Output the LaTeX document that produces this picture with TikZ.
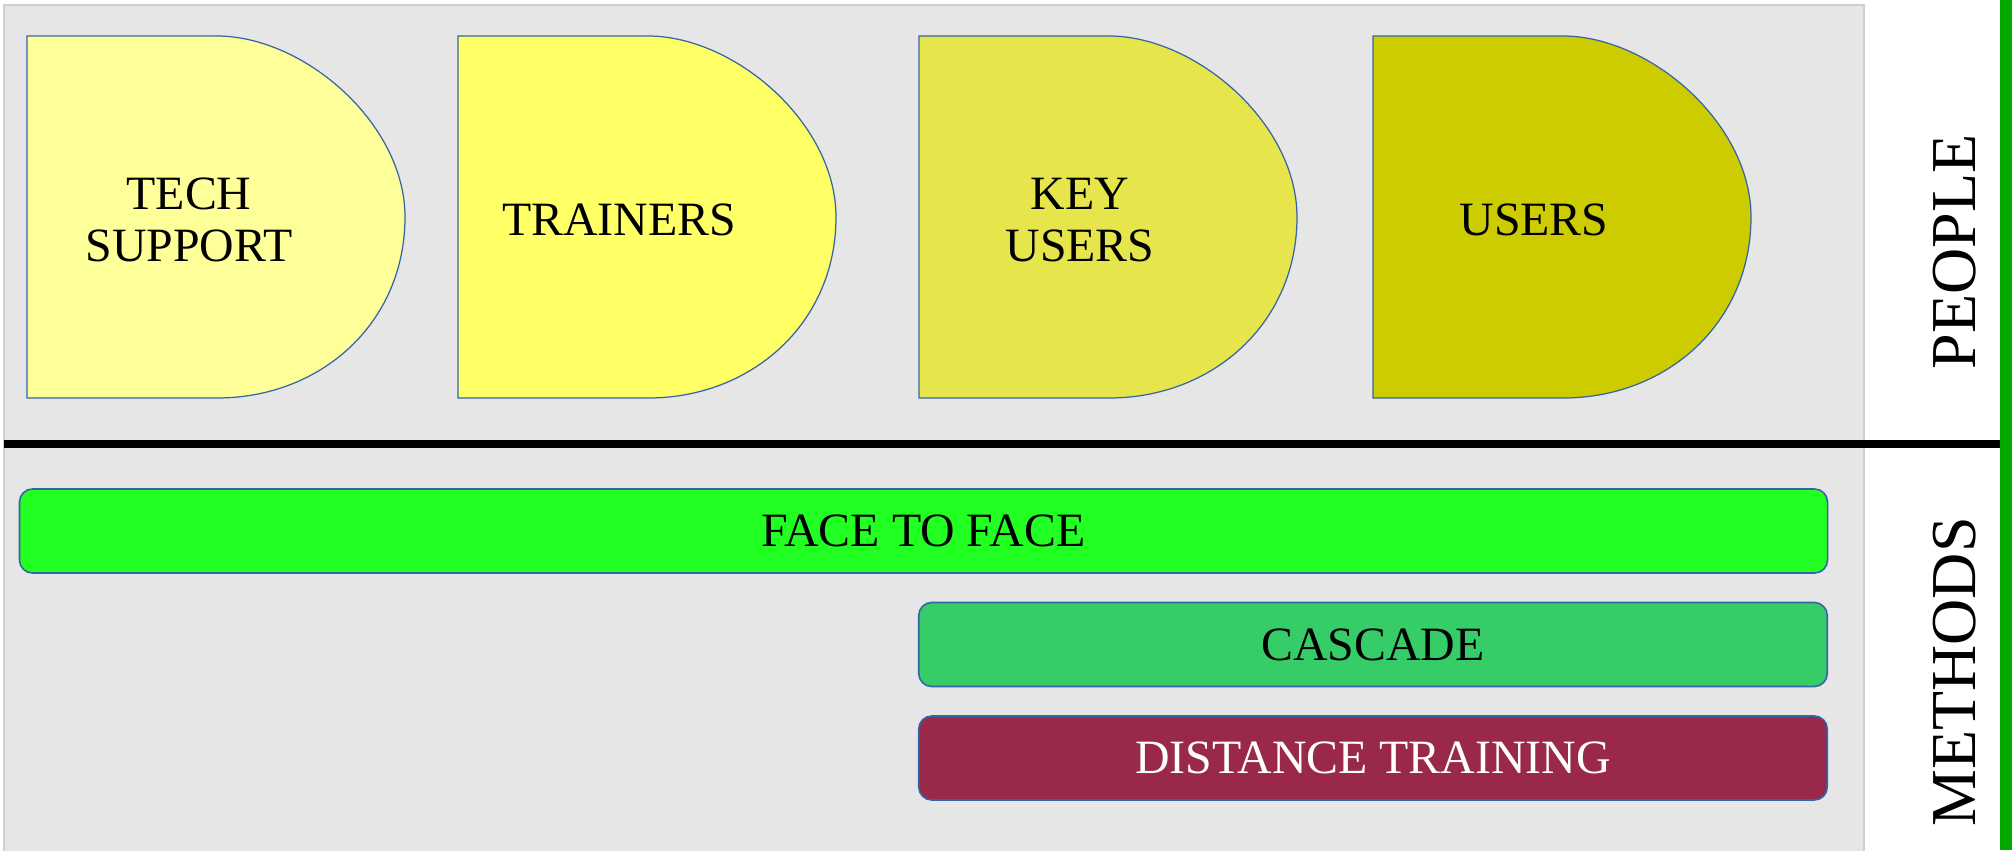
\documentclass[tikz,border=0pt]{standalone}
\usepackage{fontspec}
\setmainfont{Liberation Serif}
\definecolor{bggray}{HTML}{E6E6E6}
\definecolor{bgborder}{HTML}{CFCFCF}
\definecolor{edgeblue}{HTML}{3465A4}
\definecolor{ctech}{HTML}{FFFF99}
\definecolor{ctrain}{HTML}{FFFF66}
\definecolor{ckey}{HTML}{E6E64C}
\definecolor{cusers}{HTML}{CCCC00}
\definecolor{cftf}{HTML}{22FF22}
\definecolor{ccascade}{HTML}{36CC68}
\definecolor{cdist}{HTML}{992849}
\definecolor{cbar}{HTML}{00A800}
\tikzset{
  dshape/.style={draw=edgeblue, line width=0.35pt},
  dtext/.style={align=center, inner sep=0pt, font=\fontsize{13.6}{14.6}\selectfont},
  rbox/.style={draw=edgeblue, line width=0.45pt, rounded corners=0.13cm, inner sep=0pt,
    minimum height=0.84cm, font=\fontsize{13.6}{14.6}\selectfont},
  sidelabel/.style={rotate=90, inner sep=0pt, font=\fontsize{18.2}{20}\selectfont}
}
% D-shaped person box: #1 = left x, #2 = fill colour
\newcommand\dshp[2]{%
  \draw[dshape, fill=#2] (#1,814) -- ++(190,0)
    .. controls +(86.5,0) and +(0,94) .. ++(188,-181)
    .. controls +(0,-106) and +(104,0) .. ++(-188,-181)
    -- ++(-190,0) -- cycle;}
\begin{document}
\begin{tikzpicture}[x=0.01cm,y=0.01cm]
\useasboundingbox (0,0) rectangle (2012,850);
\fill[white] (0,0) rectangle (2012,850);
% gray panel
\draw[fill=bggray, draw=bgborder, line width=0.3pt] (4,-2) rectangle (1864,845);
% right green bar
\fill[cbar] (2000,0) rectangle (2012,850);
% divider
\draw[line width=0.078cm] (4,406) -- (2000,406);
% D shapes
\dshp{27}{ctech}
\node[dtext] (tech) at (189,630) {TECH\\SUPPORT};
\dshp{458}{ctrain}
\node[dtext] (trainers) at (619,630) {TRAINERS};
\dshp{919}{ckey}
\node[dtext] (keyusers) at (1080,630) {KEY\\USERS};
\dshp{1373}{cusers}
\node[dtext] (users) at (1534,630) {USERS};
% method boxes
\node[rbox, fill=cftf, minimum width=18.07cm] (ftf) at (923.5,319) {FACE TO FACE};
\node[rbox, fill=ccascade, minimum width=9.08cm] (cascade) at (1373,205.5) {CASCADE};
\node[rbox, fill=cdist, text=white, minimum width=9.08cm] (distance) at (1373,92) {DISTANCE TRAINING};
% side labels
\node[sidelabel] (people) at (1955,598) {PEOPLE};
\node[sidelabel] (methods) at (1955,178) {METHODS};
\end{tikzpicture}
\end{document}
